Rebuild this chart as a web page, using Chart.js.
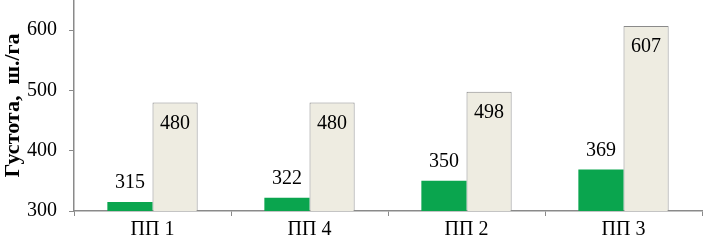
<!DOCTYPE html>
<html>
<head>
<meta charset="utf-8">
<script src="https://cdn.jsdelivr.net/npm/chart.js@4/dist/chart.umd.min.js"></script>
<style>
  html, body { margin: 0; padding: 0; background: #fff; }
  #wrap { width: 703px; height: 243px; }
</style>
</head>
<body>
<div id="wrap"><canvas id="myChart"></canvas></div>
<script>
const categories = ['ПП 1', 'ПП 4', 'ПП 2', 'ПП 3'];
const greenValues = [315, 322, 350, 369];
const beigeValues = [480, 480, 498, 607];
const yTicks = [300, 400, 500, 600];

const serif = '"Liberation Serif", "Times New Roman", serif';

// draws the numbers above the green bars and inside the top of the beige ones
const barLabels = {
    id: 'barLabels',
    afterDatasetsDraw(chart) {
        const ctx = chart.ctx;
        ctx.save();
        ctx.font = '20px ' + serif;
        ctx.fillStyle = '#000';
        ctx.textAlign = 'center';
        ctx.textBaseline = 'middle';
        chart.data.datasets.forEach((ds, i) => {
            chart.getDatasetMeta(i).data.forEach((bar, j) => {
                const y = i === 0 ? bar.y - 19 : bar.y + 21;
                ctx.fillText(ds.data[j], bar.x, y);
            });
        });
        ctx.restore();
    }
};

new Chart(document.getElementById('myChart'), {
    type: 'bar',
    data: {
        labels: categories,
        datasets: [{
            data: greenValues,
            backgroundColor: '#0aa54e',
            borderWidth: 0
        }, {
            data: beigeValues,
            backgroundColor: '#eeece1',
            borderColor: '#8a8a8a',
            borderWidth: 1
        }]
    },
    options: {
        responsive: true,
        maintainAspectRatio: false,
        animation: false,
        layout: { padding: { top: 0, right: 1, left: 0, bottom: 0 } },
        datasets: {
            bar: { categoryPercentage: 0.575, barPercentage: 1 }
        },
        plugins: {
            legend: { display: false },
            tooltip: { enabled: false }
        },
        scales: {
            x: {
                grid: {
                    drawOnChartArea: false,
                    color: '#8a8a8a',
                    tickLength: 5,
                    offset: true
                },
                border: { color: '#8a8a8a', width: 1.5 },
                ticks: {
                    color: '#000',
                    font: { family: serif, size: 20 },
                    padding: 2
                },
                afterFit(scale) {
                    scale.height = 32;
                    scale.paddingLeft = 0;
                    scale.paddingRight = 0;
                }
            },
            y: {
                min: 300,
                max: 650,
                grid: {
                    drawOnChartArea: false,
                    color: '#8a8a8a',
                    tickLength: 5
                },
                border: { color: '#8a8a8a', width: 1.5 },
                ticks: {
                    stepSize: 100,
                    color: '#000',
                    font: { family: serif, size: 20 },
                    padding: 12
                },
                afterBuildTicks(scale) {
                    scale.ticks = yTicks.map(v => ({ value: v }));
                },
                title: {
                    display: true,
                    text: 'Густота,  ш./га',
                    color: '#000',
                    font: { family: serif, size: 22, weight: 'bold' },
                    padding: { top: 0, bottom: 2 }
                },
                afterFit(scale) {
                    scale.width = 74;
                    scale.paddingTop = 0;
                    scale.paddingBottom = 0;
                }
            }
        }
    },
    plugins: [barLabels]
});
</script>
</body>
</html>
